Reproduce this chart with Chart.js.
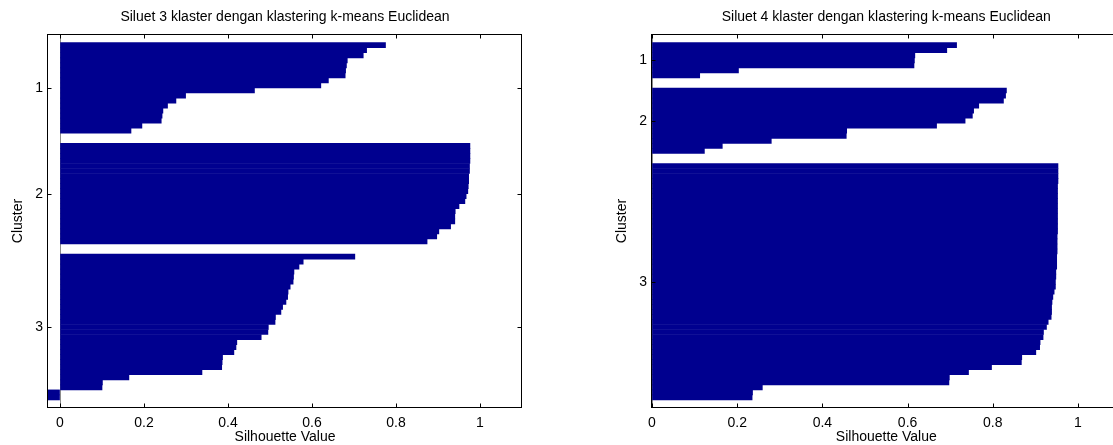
<!DOCTYPE html>
<html>
<head>
<meta charset="utf-8">
<script src="https://cdn.jsdelivr.net/npm/chart.js@4.4.1/dist/chart.umd.min.js"></script>
<style>
  html, body { margin: 0; padding: 0; background: #fff; overflow: hidden; }
  body { width: 1113px; height: 445px; position: relative; }
  canvas { position: absolute; top: 0; }
  #left { left: 0; }
  #right { left: 604px; }
</style>
</head>
<body>
<canvas id="left" width="560" height="450"></canvas>
<canvas id="right" width="560" height="450"></canvas>
<script>
// silhouette values, each cluster sorted top to bottom as in the plot
// k = 3
const k3Cluster1 = [0.775, 0.730, 0.722, 0.684, 0.682, 0.680, 0.679, 0.639, 0.621, 0.463,
                    0.299, 0.276, 0.256, 0.245, 0.243, 0.241, 0.195, 0.169];
const k3Cluster2 = [0.976, 0.976, 0.976, 0.976, 0.975, 0.975, 0.973, 0.973, 0.972, 0.971,
                    0.967, 0.964, 0.950, 0.941, 0.940, 0.940, 0.930, 0.902, 0.897, 0.874];
const k3Cluster3 = [0.702, 0.579, 0.569, 0.557, 0.556, 0.555, 0.548, 0.543, 0.542, 0.538,
                    0.530, 0.526, 0.513, 0.512, 0.496, 0.495, 0.479, 0.421, 0.419, 0.414,
                    0.387, 0.386, 0.385, 0.338, 0.164, 0.101, 0.100, -0.0285, -0.0286];
// k = 4 (only three clusters got members)
const k4Cluster1 = [0.715, 0.692, 0.617, 0.616, 0.615, 0.203, 0.112];
const k4Cluster2 = [0.832, 0.830, 0.825, 0.767, 0.755, 0.752, 0.735, 0.668, 0.457, 0.456,
                    0.280, 0.165, 0.123];
const k4Cluster3 = [0.953, 0.953, 0.953, 0.953, 0.952, 0.952, 0.952, 0.952, 0.952, 0.952,
                    0.952, 0.952, 0.952, 0.952, 0.951, 0.951, 0.951, 0.951, 0.950, 0.950,
                    0.950, 0.948, 0.948, 0.947, 0.947, 0.944, 0.941, 0.939, 0.938, 0.938,
                    0.937, 0.930, 0.926, 0.919, 0.918, 0.911, 0.910, 0.901, 0.868, 0.867,
                    0.797, 0.743, 0.698, 0.697, 0.259, 0.236, 0.235];

const clusterLabels = ["1", "2", "3"];
const xTicks = [0, 0.2, 0.4, 0.6, 0.8, 1];
const leftTitle = "Siluet 3 klaster dengan klastering k-means Euclidean";
const rightTitle = "Siluet 4 klaster dengan klastering k-means Euclidean";

const BAR_COLOR = "#00008F";
const GAP = 2;
const FONT = { family: "'Liberation Sans', Arial, sans-serif", size: 14, weight: "normal" };

Chart.defaults.font.family = FONT.family;
Chart.defaults.font.size = 14;
Chart.defaults.color = "#000";

// put clusters one after another on the index axis with a gap between them
function layoutBars(clusters) {
    const points = [];
    const centers = [];
    let pos = GAP + 1;
    clusters.forEach((vals) => {
        vals.forEach((v, i) => points.push({ x: v, y: pos + i }));
        centers.push(pos + (vals.length - 1) / 2);
        pos += vals.length + GAP;
    });
    return { points, centers };
}

// box round the axes with inward ticks, like matlab
const frame = {
    id: "frame",
    afterDraw(chart) {
        const { ctx, chartArea: a, scales } = chart;
        const L = Math.round(a.left) - 0.5;
        const R = Math.round(a.right) - 0.5;
        const T = Math.round(a.top) + 0.5;
        const B = Math.round(a.bottom) - 0.5;
        const len = 4;
        ctx.save();
        ctx.strokeStyle = "#000";
        ctx.lineWidth = 1;
        ctx.strokeRect(L, T, R - L, B - T);
        ctx.beginPath();
        scales.x.ticks.forEach((t) => {
            const px = Math.round(scales.x.getPixelForValue(t.value)) + 0.5;
            ctx.moveTo(px, B); ctx.lineTo(px, B - len);
            ctx.moveTo(px, T); ctx.lineTo(px, T + len);
        });
        scales.y.ticks.forEach((t) => {
            const py = Math.round(scales.y.getPixelForValue(t.value)) + 0.5;
            ctx.moveTo(L, py); ctx.lineTo(L + len, py);
            ctx.moveTo(R, py); ctx.lineTo(R - len, py);
        });
        ctx.stroke();
        ctx.restore();
    }
};

function makeChart(id, clusters, title, padRight) {
    const bars = layoutBars(clusters);
    const xMin = Math.min(0, ...bars.points.map((p) => p.x));

    return new Chart(document.getElementById(id), {
        type: "bar",
        data: {
            datasets: [{
                data: bars.points,
                backgroundColor: BAR_COLOR,
                borderWidth: 0,
                barPercentage: 1,
                categoryPercentage: 1,
            }],
        },
        options: {
            indexAxis: "y",
            responsive: false,
            animation: false,
            devicePixelRatio: 1,
            layout: { padding: { left: 0, top: 0, right: padRight, bottom: 0 } },
            plugins: {
                legend: { display: false },
                tooltip: { enabled: false },
                title: {
                    display: true,
                    fullSize: false, // centre over the axes, not the canvas
                    text: title,
                    color: "#000",
                    font: FONT,
                    padding: { top: 8.5, bottom: 8.7 },
                },
            },
            scales: {
                x: {
                    type: "linear",
                    position: "bottom",
                    min: xMin,
                    max: 1.1,
                    bounds: "data",
                    afterBuildTicks: (s) => { s.ticks = xTicks.map((value) => ({ value })); },
                    afterFit: (s) => { s.height = 42; },
                    ticks: {
                        callback: (v) => String(v),
                        color: "#000",
                        font: FONT,
                        padding: 7,
                        maxRotation: 0,
                        autoSkip: false,
                    },
                    grid: {
                        drawTicks: false,
                        color: (c) => (c.tick && c.tick.value === 0 ? "#8c8c8c" : "rgba(0,0,0,0)"),
                    },
                    border: { display: false },
                    title: {
                        display: true,
                        text: "Silhouette Value",
                        color: "#000",
                        font: FONT,
                        padding: { top: 0, bottom: 4.5 },
                    },
                },
                y: {
                    type: "linear",
                    reverse: true,
                    offset: false,
                    min: 0.77,
                    max: 75.1,
                    bounds: "data",
                    afterBuildTicks: (s) => { s.ticks = bars.centers.map((value) => ({ value })); },
                    afterFit: (s) => { s.width = 48; },
                    ticks: {
                        callback: (v, i) => clusterLabels[i],
                        color: "#000",
                        font: FONT,
                        padding: 5,
                        autoSkip: false,
                    },
                    grid: { display: false, drawTicks: false, offset: false },
                    border: { display: false },
                    title: {
                        display: true,
                        text: "Cluster",
                        color: "#000",
                        font: FONT,
                        padding: { top: 9.9, bottom: 0 },
                    },
                },
            },
        },
        plugins: [frame],
    });
}

makeChart("left", [k3Cluster1, k3Cluster2, k3Cluster3], leftTitle, 38);
makeChart("right", [k4Cluster1, k4Cluster2, k4Cluster3], rightTitle, 43.4);
</script>
</body>
</html>
